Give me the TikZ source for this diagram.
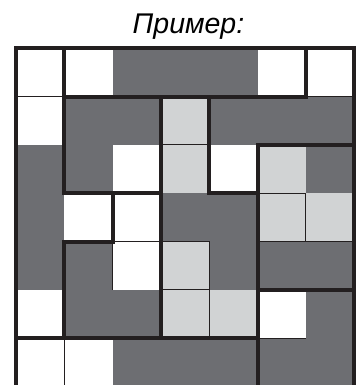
\documentclass[tikz,border=0pt]{standalone}
\usepackage{fontspec}
\setmainfont{Liberation Sans}
\definecolor{colW}{RGB}{255,255,255}
\definecolor{colD}{RGB}{109,110,114}
\definecolor{colL}{RGB}{209,211,212}
\definecolor{ink}{RGB}{35,31,32}
\begin{document}
\begin{tikzpicture}[x=1pt,y=-1pt,
  thinline/.style={draw=ink,line width=1pt},
  thickline/.style={draw=ink,line width=3.8pt,line cap=rect}]
\useasboundingbox (0,0) rectangle (360,385);
\node[font=\fontsize{28.5}{30}\selectfont\itshape,anchor=base,inner sep=0pt] (title) at (188.5,33.3) {Пример:};
\begin{scope}[shift={(16,48.3)},x=48.33pt,y=-48.33pt]
  \foreach \row [count=\r from 0] in {{W,W,D,D,D,W,W},{W,D,D,L,D,D,D},{D,D,W,L,W,L,D},{D,W,W,D,D,L,L},{D,D,W,L,D,D,D},{W,D,D,L,L,W,D},{W,W,D,D,D,D,D}}{
    \foreach \c [count=\k from 0] in \row {
      \fill[fill=col\c] (\k,\r) rectangle ++(1,1);
    }
  }
  % thin lines
  \draw[thinline] (0,1) -- (1,1);
  \draw[thinline] (6,1) -- (7,1);
  \draw[thinline] (3,2) -- (4,2);
  \draw[thinline] (5,3) -- (6,3) -- (6,4);
  \draw[thinline] (5,4) -- (7,4);
  \draw[thinline] (2,5) -- (2,4) -- (4,4) -- (4,6);
  \draw[thinline] (3,5) -- (4,5);
  \draw[thinline] (5,6) -- (6,6);
  \draw[thinline] (1,6) -- (1,7);
  % thick lines
  \draw[thickline] (0,0) rectangle (7,7);
  \draw[thickline] (1,0) -- (1,3) -- (3,3);
  \draw[thickline] (1,1) -- (6,1) -- (6,0);
  \draw[thickline] (2,3) -- (2,4) -- (1,4) -- (1,6);
  \draw[thickline] (0,6) -- (5,6);
  \draw[thickline] (3,1) -- (3,6);
  \draw[thickline] (4,1) -- (4,3) -- (5,3);
  \draw[thickline] (7,2) -- (5,2) -- (5,7);
  \draw[thickline] (5,5) -- (7,5);
\end{scope}
\end{tikzpicture}
\end{document}
